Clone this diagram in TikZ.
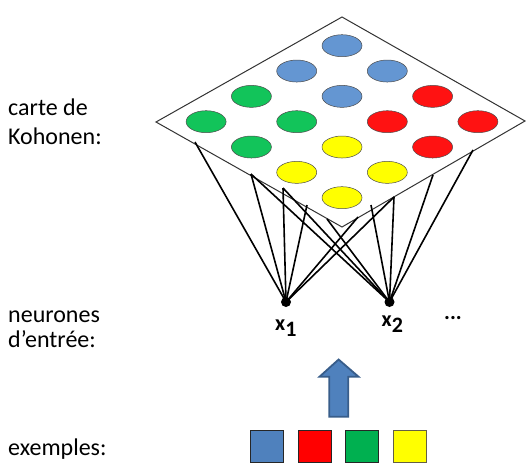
\documentclass[tikz,border=0pt]{standalone}
\usepackage{fontspec}
\setmainfont{Carlito}
\usetikzlibrary{shapes.geometric}
\definecolor{mapblue}{RGB}{100,150,210}
\definecolor{mapgreen}{RGB}{18,196,90}
\definecolor{mapred}{RGB}{255,18,18}
\definecolor{mapyellow}{RGB}{255,255,0}
\definecolor{exblue}{RGB}{79,129,189}
\definecolor{exgreen}{RGB}{0,176,80}
\definecolor{arrowedge}{RGB}{56,93,138}
\tikzset{
  mapline/.style={draw=black!80, line width=1pt, fill=white},
  cell/.style={ellipse, draw=black!70, line width=0.5pt, minimum width=40pt, minimum height=22pt, inner sep=0pt},
  conn/.style={black, line width=1.6pt},
  indot/.style={circle, fill=black, minimum size=10pt, inner sep=0pt},
  lbl/.style={font=\fontsize{24}{28}\selectfont, anchor=base west, inner sep=0pt},
  xlbl/.style={font=\fontsize{22}{24}\selectfont\bfseries, anchor=base west, inner sep=0pt},
  exbox/.style={draw=black!85, line width=0.9pt, minimum width=33pt, minimum height=32pt, inner sep=0pt},
}
\begin{document}
\begin{tikzpicture}[x=1pt,y=-1pt]
\useasboundingbox (0,0) rectangle (526,463);
% map plane
\coordinate (T) at (342,17);
\coordinate (R) at (525,121);
\coordinate (B) at (342,227);
\coordinate (L) at (156,122);
\draw[mapline] (T) -- (R) -- (B) -- (L) -- cycle;
% map cells
\foreach \i in {0,1,2,3}{
  \foreach \j in {0,1,2,3}{
    \pgfmathsetmacro{\cx}{342+(\j-\i)*45.3}
    \pgfmathsetmacro{\cy}{45.7+(\i+\j)*25.33}
    \ifnum\i<2
      \ifnum\j<2 \def\cc{mapblue}\else\def\cc{mapred}\fi
    \else
      \ifnum\j<2 \def\cc{mapgreen}\else\def\cc{mapyellow}\fi
    \fi
    \node[cell, fill=\cc] (m-\i-\j) at (\cx,\cy) {};
  }
}
% input neurons
\node[indot] (x1) at (286,302) {};
\node[indot] (x2) at (389.5,302) {};
% connection end points on the map
\coordinate (L1) at (195,142);
\coordinate (L2) at (251,174);
\coordinate (L4) at (283,188);
\coordinate (L5) at (307,205);
\coordinate (L7) at (327,219);
\coordinate (R1) at (473,150);
\coordinate (R2) at (433,175);
\coordinate (R3) at (394,197);
\coordinate (R4) at (371,205);
\coordinate (R5) at (358,217);
\foreach \p in {L1,L2,L4,L5,R5,R3}{\draw[conn] (x1.center) -- (\p);}
\foreach \p in {R1,R2,R3,R4,L2,L4,L7}{\draw[conn] (x2.center) -- (\p);}
% labels
\node[lbl] (t1) at (8,115) {carte de};
\node[lbl] (t2) at (8,144) {Kohonen:};
\node[lbl] (t3) at (8,322) {neurones};
\node[lbl] (t4) at (8,347) {d’entrée:};
\node[lbl] (t5) at (8,455) {exemples:};
\node[xlbl] (lx1) at (275,330) {x\raisebox{-6pt}{1}};
\node[xlbl] (lx2) at (381.5,326.5) {x\raisebox{-6pt}{2}};
\node[xlbl] (ldots) at (444,319) {...};
% arrow
\draw[fill=exblue, draw=arrowedge, line width=1.8pt, line join=miter]
  (329.3,416.7) -- (329.3,376.7) -- (319.5,376.7) -- (338.6,359.5) -- (358.5,376.7)
  -- (348.3,376.7) -- (348.3,416.7) -- cycle;
% examples
\node[exbox, fill=exblue] (e1) at (266.7,446.2) {};
\node[exbox, fill=red] (e2) at (314.5,446.2) {};
\node[exbox, fill=exgreen] (e3) at (362.2,446.2) {};
\node[exbox, fill=mapyellow, draw=black!70!yellow] (e4) at (410,446.2) {};
\end{tikzpicture}
\end{document}
